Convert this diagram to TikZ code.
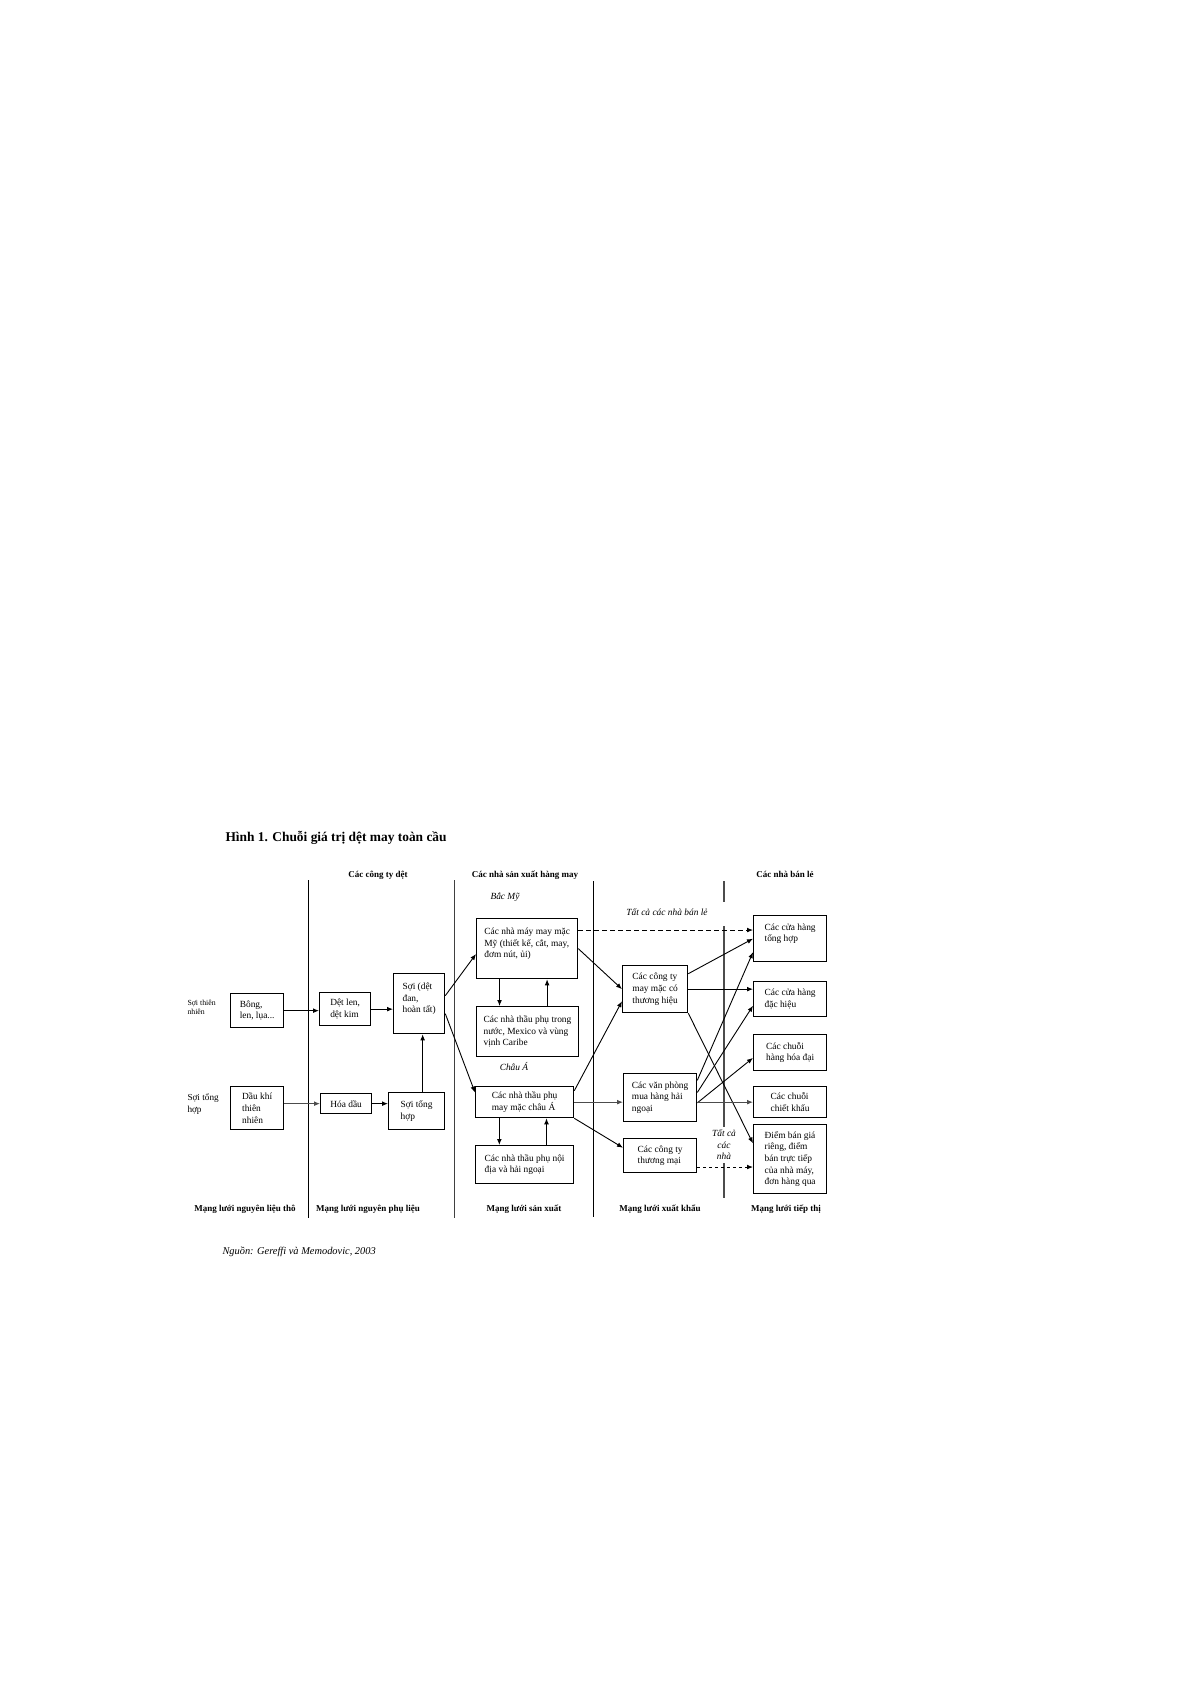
\documentclass[tikz,border=0pt]{standalone}
\usepackage{fontspec}
\setmainfont{Liberation Serif}
\usetikzlibrary{arrows.meta,positioning,calc}
\tikzset{every picture/.style={line width=0.5pt}}
\tikzset{
  hop/.style={draw, line width=0.65pt, anchor=north west, align=left, inner xsep=3.5pt, inner ysep=2pt, font=\fontsize{4.7}{5.8}\selectfont},
  muiten/.style={-{Latex[length=3pt,width=2.4pt]}, line width=0.45pt},
  cot/.style={line width=0.5pt},
  tieude/.style={inner sep=0pt, font=\bfseries\fontsize{4.5}{5.4}\selectfont},
  nghieng/.style={inner sep=0pt, align=center, font=\itshape\fontsize{4.7}{5.8}\selectfont},
}

\begin{document}
\begin{tikzpicture}[x=0.5pt, y=-0.5pt]
    \useasboundingbox (0,0) rectangle (1194,1685);

    % tiêu đề hình
    \node[anchor=west, inner sep=0pt, font=\bfseries\fontsize{6.7}{8}\selectfont] (hinh) at (225,838) {Hình 1. Chuỗi giá trị dệt may toàn cầu};

    % các đường phân cột
    \draw[cot] (308,880) -- (308,1218);
    \draw[cot, black!75] (454,880) -- (454,1218);
    \draw[cot] (593,881) -- (593,1217);
    \draw[cot, line width=0.9pt, black!70] (724,881) -- (724,902) (724,926) -- (724,1127) (724,1163) -- (724,1198);

    % tiêu đề cột
    \node[tieude] (ctdet) at (378,875) {Các công ty dệt};
    \node[tieude] (nsx) at (525,875) {Các nhà sản xuất hàng may};
    \node[tieude] (nbl) at (785,874) {Các nhà bán lẻ};

    % nhãn bên trái
    \node[anchor=west, align=left, inner sep=0pt, font=\fontsize{3.9}{4.5}\selectfont] (soithien) at (187,1007) {Sợi thiên\\nhiên};
    \node[anchor=west, align=left, inner sep=0pt, font=\fontsize{4.6}{6}\selectfont] (soitonghop) at (187,1104) {Sợi tổng\\hợp};

    % mạng lưới nguyên liệu thô
    \node[hop, minimum width=26.5pt, minimum height=17pt] (bong) at (230,993) {Bông,\\len, lụa...};
    \node[hop, minimum width=26.5pt, minimum height=21.5pt] (daukhi) at (230,1086) {Dầu khí\\thiên\\nhiên};

    % mạng lưới nguyên phụ liệu
    \node[hop, minimum width=25.5pt, minimum height=16.5pt] (detlen) at (319,992) {Dệt len,\\dệt kim};
    \node[hop, minimum width=25.5pt, minimum height=10pt] (hoadau) at (320,1093) {Hóa dầu};
    \node[hop, minimum width=25.5pt, minimum height=30pt] (soidet) at (393,973) {Sợi (dệt\\đan,\\hoàn tất)\\~};
    \node[hop, minimum width=28pt, minimum height=18.5pt] (soitong) at (388,1092) {Sợi tổng\\hợp};

    % mạng lưới sản xuất
    \node[nghieng] (bacmy) at (505,897) {Bắc Mỹ};
    \node[hop, minimum width=50.5pt, minimum height=30pt] (mymay) at (476,918) {Các nhà máy may mặc\\Mỹ (thiết kế, cắt, may,\\đơm nút, ủi)\\~};
    \node[hop, minimum width=50.5pt, minimum height=25pt] (trongnuoc) at (476,1006) {Các nhà thầu phụ trong\\nước, Mexico và vùng\\vịnh Caribe};
    \node[nghieng] (chauA) at (514,1067) {Châu Á};
    \node[hop, minimum width=49pt, minimum height=15.5pt] (chaua) at (475,1086) {Các nhà thầu phụ\\may mặc châu Á};
    \node[hop, minimum width=49pt, minimum height=19pt] (noidia) at (475,1145) {Các nhà thầu phụ nội\\địa và hải ngoại};

    % mạng lưới xuất khẩu
    \node[nghieng] (tatca) at (667,912) {Tất cả các nhà bán lẻ};
    \node[hop, minimum width=32.5pt, minimum height=23.5pt] (thuonghieu) at (622,965) {Các công ty\\may mặc có\\thương hiệu};
    \node[hop, minimum width=36.5pt, minimum height=24pt] (vanphong) at (623,1073) {Các văn phòng\\mua hàng hải\\ngoại};
    \node[hop, minimum width=36.5pt, minimum height=17pt] (thuongmai) at (623,1138) {Các công ty\\thương mại};
    \node[nghieng] (tatca2) at (724,1145) {Tất cả\\các\\nhà};

    % mạng lưới tiếp thị
    \node[hop, minimum width=36.5pt, minimum height=23pt] (tonghop) at (753,915) {Các cửa hàng\\tổng hợp\\~};
    \node[hop, minimum width=36.5pt, minimum height=17.5pt] (dachieu) at (753,981) {Các cửa hàng\\đặc hiệu};
    \node[hop, minimum width=36.5pt, minimum height=18pt] (chuoidai) at (753,1034) {Các chuỗi\\hàng hóa đại};
    \node[hop, minimum width=36.5pt, minimum height=15.5pt] (chietkhau) at (753,1086) {Các chuỗi\\chiết khấu};
    \node[hop, minimum width=36.5pt, minimum height=34.5pt] (diemban) at (753,1124) {Điểm bán giá\\riêng, điểm\\bán trực tiếp\\của nhà máy,\\đơn hàng qua};

    % tên các mạng lưới
    \node[tieude] (mltho) at (245,1209) {Mạng lưới nguyên liệu thô};
    \node[tieude] (mlphu) at (368,1209) {Mạng lưới nguyên phụ liệu};
    \node[tieude] (mlsx) at (524,1209) {Mạng lưới sản xuất};
    \node[tieude] (mlxk) at (660,1209) {Mạng lưới xuất khẩu};
    \node[tieude] (mltt) at (786,1209) {Mạng lưới tiếp thị};

    % nguồn
    \node[anchor=west, inner sep=0pt, font=\itshape\fontsize{5.2}{6}\selectfont] (nguon) at (222,1252) {Nguồn: Gereffi và Memodovic, 2003};

    % mũi tên nguyên liệu
    \draw[muiten] (bong.east) -- (bong.east -| detlen.west);
    \draw[muiten, black!70] (hoadau.west -| daukhi.east) -- (hoadau.west);
    \draw[muiten] (detlen.east) -- (detlen.east -| soidet.west);
    \draw[muiten] (hoadau.east) -- (hoadau.east -| soitong.west);
    \draw[muiten] ($(soitong.north)+(6,0)$) coordinate (p) -- (p |- soidet.south);
    \draw[muiten] (soidet.17) -- (mymay.186);
    \draw[muiten] (soidet.-21) -- (chaua.169);

    % mũi tên sản xuất
    \draw[muiten] ($(mymay.south west)!0.23!(mymay.south east)$) coordinate (m1) -- (m1 |- trongnuoc.north);
    \draw[muiten] ($(trongnuoc.north west)!0.69!(trongnuoc.north east)$) coordinate (m2) -- (m2 |- mymay.south);
    \draw[muiten] ($(chaua.south west)!0.245!(chaua.south east)$) coordinate (c1) -- (c1 |- noidia.north);
    \draw[muiten] ($(noidia.north west)!0.72!(noidia.north east)$) coordinate (c2) -- (c2 |- chaua.south);
    \draw[muiten, dash pattern=on 2.5pt off 1.5pt] (mymay.20) -- (mymay.20 -| tonghop.west);
    \draw[muiten] (mymay.east) -- (thuonghieu.west);
    \draw[muiten] (chaua.13) -- (thuonghieu.200);
    \draw[muiten, black!70] (chaua.east) -- (chaua.east -| vanphong.west);
    \draw[muiten] (chaua.south east) -- (thuongmai.168);

    % mũi tên xuất khẩu
    \draw[muiten] (thuonghieu.25) -- (tonghop.west);
    \draw[muiten] (thuonghieu.east) -- (thuonghieu.east -| dachieu.west);
    \draw[muiten] (thuonghieu.south east) -- (diemban.157);
    \draw[muiten] (vanphong.25) -- (tonghop.200);
    \draw[muiten] (vanphong.8) -- (dachieu.190);
    \draw[muiten] (vanphong.-8) -- (chuoidai.188);
    \draw[muiten, black!70] (chietkhau.west -| vanphong.east) -- (chietkhau.west);
    \draw[muiten, dash pattern=on 1.5pt off 1.5pt] (thuongmai.-17) -- (thuongmai.-17 -| diemban.west);
\end{tikzpicture}
\end{document}
